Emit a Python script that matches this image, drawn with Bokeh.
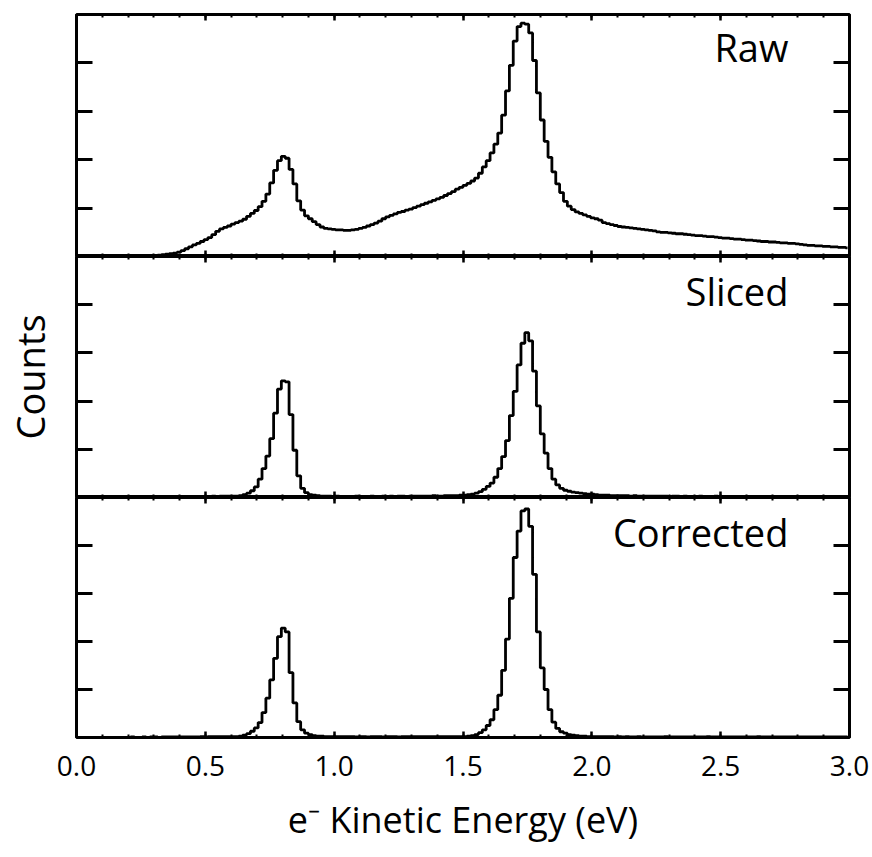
import numpy as np
from bokeh.plotting import figure
from bokeh.layouts import column
from bokeh.models import (Range1d, FixedTicker, LinearAxis, Label,
                          NumeralTickFormatter, CustomLabelingPolicy)
from bokeh.embed import file_html
from bokeh.resources import INLINE

# Histogram binning of the electron kinetic energy (eV)
E_MIN = 0.0
BIN_WIDTH = 0.015

# Counts per bin (arbitrary units, one tick = 1)
raw_counts = [
    0.00, 0.00, 0.00, 0.00, 0.00, 0.00, 0.00, 0.00, 0.00, 0.00,
    0.00, 0.00, 0.00, 0.00, 0.005, 0.005, 0.01, 0.01, 0.01, 0.015,
    0.02, 0.03, 0.04, 0.05, 0.06, 0.07, 0.09, 0.12, 0.16, 0.20,
    0.24, 0.27, 0.31, 0.35, 0.39, 0.45, 0.52, 0.57, 0.60, 0.63,
    0.67, 0.70, 0.73, 0.77, 0.83, 0.89, 0.95, 1.03, 1.14, 1.29,
    1.52, 1.78, 1.98, 2.07, 2.03, 1.80, 1.50, 1.15, 0.96, 0.84,
    0.78, 0.72, 0.66, 0.61, 0.58, 0.57, 0.56, 0.55, 0.55, 0.54,
    0.54, 0.55, 0.56, 0.58, 0.60, 0.63, 0.66, 0.69, 0.73, 0.78,
    0.82, 0.85, 0.88, 0.91, 0.93, 0.96, 0.98, 1.01, 1.04, 1.07,
    1.10, 1.13, 1.16, 1.19, 1.22, 1.26, 1.30, 1.34, 1.39, 1.43,
    1.47, 1.51, 1.56, 1.62, 1.72, 1.85, 1.98, 2.14, 2.32, 2.55,
    2.92, 3.42, 3.95, 4.45, 4.75, 4.82, 4.80, 4.62, 4.05, 3.38,
    2.82, 2.38, 2.05, 1.75, 1.50, 1.32, 1.14, 1.04, 0.97, 0.92,
    0.89, 0.86, 0.83, 0.80, 0.78, 0.75, 0.70, 0.68, 0.66, 0.64,
    0.62, 0.61, 0.60, 0.59, 0.58, 0.57, 0.56, 0.55, 0.54, 0.53,
    0.51, 0.50, 0.50, 0.49, 0.48, 0.47, 0.47, 0.46, 0.45, 0.44,
    0.43, 0.43, 0.42, 0.41, 0.41, 0.40, 0.39, 0.38, 0.38, 0.37,
    0.36, 0.36, 0.35, 0.34, 0.34, 0.33, 0.32, 0.31, 0.31, 0.30,
    0.30, 0.29, 0.28, 0.28, 0.27, 0.27, 0.26, 0.25, 0.24, 0.23,
    0.23, 0.22, 0.22, 0.21, 0.21, 0.20, 0.20, 0.19, 0.19, 0.18,
]

sliced_counts = [
    0.00, 0.00, 0.00, 0.00, 0.00, 0.00, 0.00, 0.00, 0.00, 0.00,
    0.00, 0.00, 0.00, 0.01, 0.00, 0.01, 0.01, 0.00, 0.01, 0.01,
    0.01, 0.01, 0.01, 0.01, 0.02, 0.01, 0.02, 0.02, 0.01, 0.02,
    0.02, 0.02, 0.02, 0.02, 0.02, 0.03, 0.02, 0.03, 0.03, 0.03,
    0.03, 0.03, 0.04, 0.06, 0.09, 0.14, 0.22, 0.38, 0.60, 0.86,
    1.22, 1.75, 2.25, 2.42, 2.40, 1.72, 0.98, 0.45, 0.19, 0.10,
    0.06, 0.05, 0.04, 0.03, 0.03, 0.03, 0.02, 0.03, 0.02, 0.02,
    0.02, 0.02, 0.03, 0.02, 0.02, 0.02, 0.03, 0.02, 0.02, 0.03,
    0.02, 0.03, 0.02, 0.03, 0.03, 0.02, 0.03, 0.03, 0.03, 0.03,
    0.03, 0.03, 0.04, 0.03, 0.03, 0.04, 0.04, 0.04, 0.04, 0.05,
    0.05, 0.06, 0.07, 0.09, 0.12, 0.17, 0.23, 0.30, 0.42, 0.60,
    0.85, 1.18, 1.70, 2.20, 2.75, 3.20, 3.42, 3.25, 2.62, 1.90,
    1.32, 0.92, 0.60, 0.38, 0.26, 0.19, 0.15, 0.13, 0.11, 0.10,
    0.09, 0.08, 0.07, 0.07, 0.06, 0.05, 0.05, 0.05, 0.04, 0.04,
    0.04, 0.04, 0.04, 0.03, 0.04, 0.03, 0.03, 0.03, 0.03, 0.03,
    0.03, 0.03, 0.03, 0.02, 0.03, 0.03, 0.02, 0.03, 0.02, 0.02,
    0.02, 0.03, 0.02, 0.02, 0.02, 0.03, 0.02, 0.02, 0.02, 0.02,
    0.02, 0.02, 0.02, 0.01, 0.02, 0.02, 0.02, 0.01, 0.02, 0.02,
    0.02, 0.01, 0.02, 0.01, 0.01, 0.02, 0.01, 0.01, 0.01, 0.02,
    0.01, 0.01, 0.01, 0.01, 0.01, 0.01, 0.01, 0.01, 0.01, 0.01,
]

corrected_counts = [
    0.00, 0.00, 0.00, 0.00, 0.00, 0.00, 0.00, 0.00, 0.00, 0.00,
    0.00, 0.00, 0.00, 0.00, 0.01, 0.00, 0.00, 0.01, 0.00, 0.01,
    0.01, 0.00, 0.01, 0.01, 0.01, 0.01, 0.01, 0.01, 0.01, 0.01,
    0.01, 0.01, 0.02, 0.01, 0.02, 0.02, 0.02, 0.02, 0.02, 0.02,
    0.02, 0.02, 0.03, 0.05, 0.08, 0.13, 0.20, 0.31, 0.52, 0.82,
    1.20, 1.65, 2.10, 2.28, 2.20, 1.35, 0.72, 0.33, 0.16, 0.09,
    0.06, 0.04, 0.03, 0.03, 0.02, 0.02, 0.02, 0.02, 0.02, 0.02,
    0.02, 0.02, 0.01, 0.02, 0.02, 0.01, 0.02, 0.02, 0.02, 0.01,
    0.02, 0.02, 0.02, 0.01, 0.02, 0.02, 0.02, 0.02, 0.02, 0.02,
    0.02, 0.02, 0.02, 0.02, 0.02, 0.02, 0.02, 0.02, 0.02, 0.02,
    0.02, 0.03, 0.04, 0.06, 0.10, 0.16, 0.25, 0.37, 0.58, 0.88,
    1.40, 2.05, 2.90, 3.75, 4.30, 4.72, 4.76, 4.40, 3.40, 2.20,
    1.45, 1.00, 0.58, 0.32, 0.19, 0.12, 0.09, 0.06, 0.05, 0.04,
    0.03, 0.03, 0.02, 0.02, 0.02, 0.02, 0.02, 0.02, 0.02, 0.01,
    0.02, 0.01, 0.02, 0.01, 0.01, 0.02, 0.01, 0.01, 0.01, 0.01,
    0.01, 0.01, 0.02, 0.01, 0.01, 0.01, 0.01, 0.01, 0.01, 0.01,
    0.01, 0.01, 0.01, 0.02, 0.01, 0.01, 0.01, 0.01, 0.01, 0.01,
    0.01, 0.01, 0.01, 0.01, 0.01, 0.01, 0.02, 0.01, 0.01, 0.01,
    0.01, 0.01, 0.01, 0.01, 0.01, 0.01, 0.01, 0.01, 0.01, 0.01,
    0.01, 0.01, 0.01, 0.01, 0.01, 0.01, 0.01, 0.01, 0.01, 0.01,
]

panel_names = ["Raw", "Sliced", "Corrected"]
panel_series = [raw_counts, sliced_counts, corrected_counts]

x_major_ticks = [0.0, 0.5, 1.0, 1.5, 2.0, 2.5, 3.0]
x_minor_ticks = [round(0.1 * k, 1) for k in range(31)]
y_ticks = [1, 2, 3, 4]

FONT = "Open Sans"
FRAME_W = 773
FRAME_HEIGHTS = [242, 241, 240]
NAME_Y = [4.32, 4.28, 4.29]

x_range = Range1d(0.0, 3.0)


def bin_centers(counts):
    return E_MIN + BIN_WIDTH * (np.arange(len(counts)) + 0.5)


def hide_labels(ax):
    # tick marks only: no tick label is kept for drawing
    ax.major_label_policy = CustomLabelingPolicy(code="return []")
    ax.major_label_text_font_size = "0px"
    ax.major_label_standoff = 0


def style_y_axis(ax):
    ax.ticker = FixedTicker(ticks=y_ticks)
    ax.axis_line_color = None
    ax.major_tick_in = 16
    ax.major_tick_out = 0
    ax.major_tick_line_width = 3
    ax.minor_tick_in = 0
    ax.minor_tick_out = 0
    hide_labels(ax)


def style_x_axis(ax, with_labels):
    ax.ticker = FixedTicker(ticks=x_major_ticks, minor_ticks=x_minor_ticks)
    ax.axis_line_color = None
    ax.major_tick_in = 6
    ax.major_tick_out = 0
    ax.major_tick_line_width = 2.5
    ax.minor_tick_in = 3
    ax.minor_tick_out = 0
    ax.minor_tick_line_width = 2
    if with_labels:
        ax.formatter = NumeralTickFormatter(format="0.0")
        ax.major_label_text_font = FONT
        ax.major_label_text_font_size = "28px"
        ax.major_label_text_color = "black"
        ax.major_label_standoff = 18
    else:
        hide_labels(ax)


def make_panel(i):
    first = i == 0
    last = i == len(panel_series) - 1
    p = figure(
        frame_width=FRAME_W, frame_height=FRAME_HEIGHTS[i],
        x_range=x_range, y_range=Range1d(0, 5),
        output_backend="svg", toolbar_location=None, tools="",
        x_axis_location=None, y_axis_location=None,
        min_border_left=75, min_border_right=24,
        min_border_top=14 if first else 0,
        min_border_bottom=120 if last else 0,
    )
    p.grid.visible = False
    p.outline_line_color = "black"
    p.outline_line_width = 3
    p.background_fill_color = "white"
    p.border_fill_color = "white"

    left = LinearAxis()
    style_y_axis(left)
    if i == 1:
        left.axis_label = "Counts"
        left.axis_label_text_font = FONT
        left.axis_label_text_font_size = "38px"
        left.axis_label_text_font_style = "normal"
        left.axis_label_text_color = "black"
        left.axis_label_standoff = 21
    p.add_layout(left, "left")
    right = LinearAxis()
    style_y_axis(right)
    p.add_layout(right, "right")

    top = LinearAxis()
    style_x_axis(top, False)
    p.add_layout(top, "above")
    bottom = LinearAxis()
    style_x_axis(bottom, last)
    if last:
        bottom.axis_label = "e\u207b Kinetic Energy (eV)"
        bottom.axis_label_text_font = FONT
        bottom.axis_label_text_font_size = "36px"
        bottom.axis_label_text_font_style = "normal"
        bottom.axis_label_text_color = "black"
        bottom.axis_label_standoff = 16
    p.add_layout(bottom, "below")

    counts = panel_series[i]
    p.step(x=bin_centers(counts), y=counts, mode="center",
           line_color="black", line_width=2.8)

    p.add_layout(Label(x=2.763, y=NAME_Y[i], text=panel_names[i],
                       text_align="right", text_baseline="alphabetic",
                       text_font=FONT, text_font_size="38px",
                       text_color="black"))
    return p


panels = [make_panel(i) for i in range(len(panel_series))]
layout = column(*panels, spacing=0)

open("out.html", "w").write(file_html(layout, INLINE))
